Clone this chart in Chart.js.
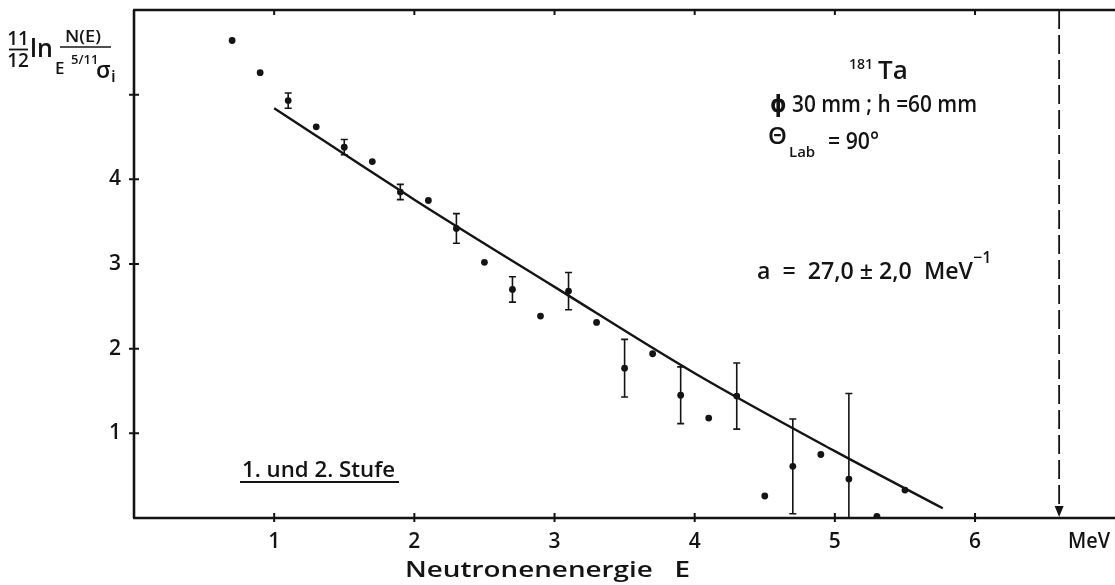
<!DOCTYPE html>
<html>
<head>
<meta charset="utf-8">
<script src="https://cdn.jsdelivr.net/npm/chart.js@4/dist/chart.umd.min.js"></script>
<style>
  html, body { margin: 0; padding: 0; background: #fff; }
  #wrap { width: 1115px; height: 585px; position: relative; }
</style>
</head>
<body>
<div id="wrap"><canvas id="chart"></canvas></div>
<script>
// Measured spectrum: neutron energy (MeV) and reduced level-density quantity
const energy = [0.7, 0.9, 1.1, 1.3, 1.5, 1.7, 1.9, 2.1, 2.3, 2.5, 2.7, 2.9, 3.1,
                3.3, 3.5, 3.7, 3.9, 4.1, 4.3, 4.5, 4.7, 4.9, 5.1, 5.3, 5.5];
const value = [5.64, 5.26, 4.93, 4.62, 4.38, 4.21, 3.85, 3.75, 3.42, 3.02, 2.70, 2.385, 2.68,
               2.31, 1.77, 1.94, 1.45, 1.18, 1.44, 0.26, 0.61, 0.75, 0.46, 0.02, 0.33];
// Half-length of the statistical error bar (null = no bar drawn)
const errorHalf = [null, null, 0.09, null, 0.09, null, 0.09, null, 0.175, null, 0.15, null, 0.22,
                   null, 0.34, null, 0.335, null, 0.39, null, 0.56, null, 1.01, null, null];

// Fitted curve (a = 27.0 MeV^-1)
const fitEnergy = [1.0, 2.0, 3.0, 4.0, 5.0, 5.77];
const fitValue  = [4.84, 3.76, 2.73, 1.71, 0.79, 0.115];

// Axis ticks
const xTicks = [1, 2, 3, 4, 5, 6];
const yTicks = [1, 2, 3, 4, 5];
const yTickLabels = ['1', '2', '3', '4', ''];

// Upper energy limit marked by the dashed arrow
const limitEnergy = [6.6];

const INK = '#141414';
const FONT = '"Open Sans", "DejaVu Sans", sans-serif';
const W = 600;

function fitText(ctx, text, x, y, width) {
  const w = ctx.measureText(text).width;
  ctx.save();
  ctx.textAlign = 'left';
  ctx.translate(x, y);
  ctx.scale(width / w, 1);
  ctx.fillText(text, 0, 0);
  ctx.restore();
}

const decorations = {
  id: 'decorations',
  beforeDraw(chart) {
    const ctx = chart.ctx;
    ctx.save();
    ctx.fillStyle = '#fff';
    ctx.fillRect(0, 0, chart.width, chart.height);
    ctx.restore();
  },
  afterDatasetsDraw(chart) {
    const ctx = chart.ctx;
    const xs = chart.scales.x, ys = chart.scales.y;
    const area = chart.chartArea;
    ctx.save();
    ctx.strokeStyle = INK;
    ctx.fillStyle = INK;

    // error bars
    ctx.lineWidth = 1.6;
    energy.forEach((e, i) => {
      const h = errorHalf[i];
      if (h == null) return;
      const px = xs.getPixelForValue(e);
      const lo = Math.max(0, value[i] - h), hi = value[i] + h;
      const pLo = ys.getPixelForValue(lo), pHi = ys.getPixelForValue(hi);
      ctx.beginPath();
      ctx.moveTo(px, pLo); ctx.lineTo(px, pHi);
      ctx.moveTo(px - 3.5, pHi); ctx.lineTo(px + 3.5, pHi);
      if (value[i] - h > 0) { ctx.moveTo(px - 3.5, pLo); ctx.lineTo(px + 3.5, pLo); }
      ctx.stroke();
    });

    // frame: left axis, bottom axis, top line
    ctx.lineWidth = 2.6;
    ctx.beginPath();
    ctx.moveTo(area.left, area.top); ctx.lineTo(area.left, area.bottom);
    ctx.moveTo(area.left - 1, area.bottom); ctx.lineTo(chart.width, area.bottom);
    ctx.moveTo(area.left - 1, area.top); ctx.lineTo(chart.width, area.top);
    ctx.stroke();

    // tick marks
    ctx.lineWidth = 2;
    ctx.beginPath();
    xTicks.forEach(v => {
      const px = xs.getPixelForValue(v);
      ctx.moveTo(px, area.bottom - 5); ctx.lineTo(px, area.bottom + 4);
      ctx.moveTo(px, area.top); ctx.lineTo(px, area.top + 5);
    });
    yTicks.forEach(v => {
      const py = ys.getPixelForValue(v);
      ctx.moveTo(area.left - 5, py); ctx.lineTo(area.left + 5, py);
    });
    ctx.stroke();

    // dashed limit with arrow
    limitEnergy.forEach(e => {
      const px = xs.getPixelForValue(e);
      ctx.lineWidth = 1.8;
      ctx.setLineDash([19, 6]);
      ctx.beginPath();
      ctx.moveTo(px, area.top); ctx.lineTo(px, area.bottom - 8);
      ctx.stroke();
      ctx.setLineDash([]);
      ctx.beginPath();
      ctx.moveTo(px - 4.5, area.bottom - 12);
      ctx.lineTo(px + 4.5, area.bottom - 12);
      ctx.lineTo(px, area.bottom - 1);
      ctx.closePath();
      ctx.fill();
    });
    ctx.restore();
  },
  afterDraw(chart) {
    const ctx = chart.ctx;
    ctx.save();
    ctx.fillStyle = INK;
    ctx.strokeStyle = INK;
    ctx.textBaseline = 'alphabetic';
    ctx.textAlign = 'left';

    // y-axis quantity: 11/12 ln N(E) / (E^{5/11} sigma_i)
    ctx.font = `${W} 19px ${FONT}`;
    ctx.textAlign = 'center';
    ctx.fillText('11', 18, 45);
    ctx.fillText('12', 18, 67);
    ctx.lineWidth = 1.8;
    ctx.beginPath(); ctx.moveTo(9, 49.5); ctx.lineTo(28, 49.5); ctx.stroke();
    ctx.textAlign = 'left';
    ctx.font = `${W} 25px ${FONT}`;
    ctx.fillText('ln', 30, 57);
    ctx.font = `${W} 17px ${FONT}`;
    fitText(ctx, 'N(E)', 65, 42, 36);
    ctx.lineWidth = 1.6;
    ctx.beginPath(); ctx.moveTo(60, 47); ctx.lineTo(111, 47); ctx.stroke();
    ctx.fillText('E', 55, 74);
    ctx.font = `${W} 13px ${FONT}`;
    ctx.fillText('5/11', 71, 64);
    ctx.font = `${W} 23px ${FONT}`;
    ctx.fillText('σ', 96, 78);
    ctx.font = `${W} 17px ${FONT}`;
    ctx.fillText('i', 111, 82);

    // sample description
    ctx.font = `${W} 14px ${FONT}`;
    ctx.fillText('181', 849, 69);
    ctx.font = `${W} 26px ${FONT}`;
    ctx.fillText('Ta', 878, 79);
    ctx.font = `${W} 23px ${FONT}`;
    fitText(ctx, 'ϕ 30 mm ; h =60 mm', 770, 112, 207);
    ctx.font = `${W} 24px ${FONT}`;
    ctx.fillText('Θ', 768, 144);
    ctx.font = `${W} 15px ${FONT}`;
    ctx.fillText('Lab', 789, 157);
    ctx.font = `${W} 23px ${FONT}`;
    fitText(ctx, '= 90°', 828, 149, 51);

    // fit result
    ctx.font = `${W} 24px ${FONT}`;
    fitText(ctx, 'a  =  27,0 ± 2,0  MeV', 757, 279, 216);
    ctx.font = `${W} 16px ${FONT}`;
    ctx.fillText('−1', 973, 263);

    // data set label
    ctx.font = `${W} 21px ${FONT}`;
    fitText(ctx, '1. und 2. Stufe', 242, 477, 153);
    ctx.lineWidth = 2;
    ctx.beginPath(); ctx.moveTo(240, 482); ctx.lineTo(399, 482); ctx.stroke();

    // axis title and unit
    ctx.font = `${W} 21px ${FONT}`;
    fitText(ctx, 'Neutronenenergie   E', 405, 577, 285);
    fitText(ctx, 'MeV', 1068, 548, 42);
    ctx.restore();
  }
};

new Chart(document.getElementById('chart'), {
  type: 'scatter',
  data: {
    datasets: [
      {
        label: 'Messwerte',
        data: energy.map((e, i) => ({ x: e, y: value[i] })),
        pointRadius: 3.4,
        pointBackgroundColor: INK,
        pointBorderWidth: 0,
        showLine: false,
        order: 1
      },
      {
        label: 'Anpassung',
        data: fitEnergy.map((e, i) => ({ x: e, y: fitValue[i] })),
        showLine: true,
        borderColor: INK,
        borderWidth: 2.4,
        pointRadius: 0,
        cubicInterpolationMode: 'monotone',
        order: 2
      }
    ]
  },
  options: {
    responsive: true,
    maintainAspectRatio: false,
    animation: false,
    layout: { padding: { top: 10, right: 0, left: 0, bottom: 0 } },
    plugins: { legend: { display: false }, tooltip: { enabled: false } },
    scales: {
      x: {
        type: 'linear',
        min: 0,
        max: 6.97,
        afterBuildTicks: s => { s.ticks = xTicks.map(v => ({ value: v })); },
        afterFit: s => { s.height = 67; s.paddingLeft = 0; s.paddingRight = 0; },
        grid: { display: true, drawOnChartArea: false, drawTicks: false, color: 'rgba(0,0,0,0)' },
        border: { display: false },
        ticks: { color: INK, font: { size: 21, family: FONT, weight: W }, padding: 11, maxRotation: 0, autoSkip: false }
      },
      y: {
        type: 'linear',
        min: 0,
        max: 6,
        afterBuildTicks: s => { s.ticks = yTicks.map(v => ({ value: v })); },
        afterFit: s => { s.width = 134; s.paddingTop = 0; s.paddingBottom = 0; },
        grid: { display: true, drawOnChartArea: false, drawTicks: false, color: 'rgba(0,0,0,0)' },
        border: { display: false },
        ticks: {
          color: INK, font: { size: 21, family: FONT, weight: W }, padding: 13, autoSkip: false,
          callback: (v) => { const k = yTicks.indexOf(v); return k >= 0 ? yTickLabels[k] : ''; }
        }
      }
    }
  },
  plugins: [decorations]
});
</script>
</body>
</html>
